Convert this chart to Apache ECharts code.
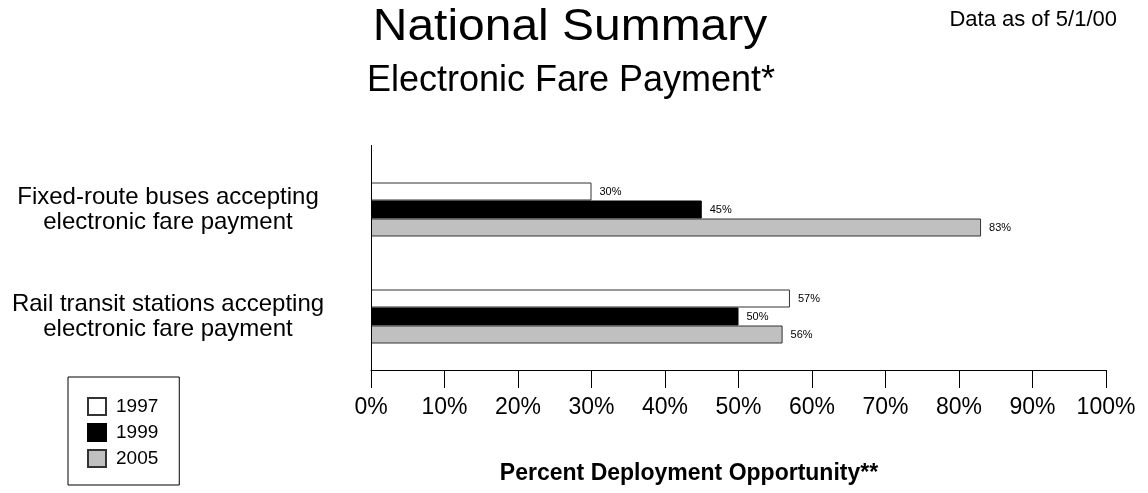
<!DOCTYPE html>
<html>
<head>
<meta charset="utf-8">
<script src="https://cdn.jsdelivr.net/npm/echarts@6/dist/echarts.min.js"></script>
<style>
html,body{margin:0;padding:0;background:#fff;}
#chart{width:1148px;height:493px;}
</style>
</head>
<body>
<div id="chart"></div>
<script>
const categories = [
  'Fixed-route buses accepting\nelectronic fare payment',
  'Rail transit stations accepting\nelectronic fare payment'
];
const years = ['1997', '1999', '2005'];
const values1997 = [30, 57];
const values1999 = [45, 50];
const values2005 = [83, 56];
const xTicks = [0, 10, 20, 30, 40, 50, 60, 70, 80, 90, 100];

const FONT = '"Liberation Sans", Arial, Helvetica, sans-serif';
const chart = echarts.init(document.getElementById('chart'), null, {renderer: 'canvas'});

const barLabel = {
  show: true, position: 'right', distance: 8,
  formatter: p => p.value + '%',
  fontFamily: FONT, fontSize: 11, color: '#000'
};

const styles = [
  {color: '#ffffff', borderColor: '#333', borderWidth: 1},
  {color: '#000000', borderColor: '#000', borderWidth: 1},
  {color: '#c0c0c0', borderColor: '#333', borderWidth: 1}
];
const seriesData = [values1997, values1999, values2005];

chart.setOption({
  animation: false,
  backgroundColor: '#fff',
  grid: {left: 371, right: 42, top: 156, bottom: 123, containLabel: false},
  legend: {
    orient: 'vertical',
    left: 68, top: 377,
    padding: [20, 21, 17, 19],
    borderColor: '#000', borderWidth: 1,
    itemWidth: 18, itemHeight: 17, itemGap: 7,
    icon: 'rect',
    data: years,
    textStyle: {fontFamily: FONT, fontSize: 19, color: '#000', lineHeight: 17, padding: [0, 0, 0, 5]}
  },
  xAxis: {
    type: 'value', min: 0, max: 100, interval: 10,
    axisLine: {show: true, lineStyle: {color: '#000', width: 1}},
    axisTick: {show: true, length: 18, lineStyle: {color: '#000'}},
    splitLine: {show: false},
    axisLabel: {
      formatter: v => v + '%', fontFamily: FONT, fontSize: 23, color: '#000',
      margin: 26, showMinLabel: true, showMaxLabel: true
    }
  },
  yAxis: {
    type: 'category', data: categories, inverse: true,
    axisLine: {show: false},
    axisTick: {show: false},
    axisLabel: {
      align: 'center', margin: 203, fontFamily: FONT, fontSize: 24,
      lineHeight: 25, color: '#000'
    }
  },
  series: years.map((y, i) => ({
    name: y, type: 'bar', data: seriesData[i],
    barWidth: 18, barGap: '0%',
    itemStyle: styles[i],
    label: barLabel
  })),
  graphic: [
    {type: 'line', shape: {x1: 371.5, y1: 145, x2: 371.5, y2: 370}, style: {stroke: '#000', lineWidth: 1}, z: 10},
    {type: 'text', x: 570, y: 28, scaleX: 1.09, style: {text: 'National Summary', font: '44px ' + FONT, fill: '#000', textAlign: 'center', textVerticalAlign: 'middle'}},
    {type: 'text', x: 571, y: 81, style: {text: 'Electronic Fare Payment*', font: '36px ' + FONT, fill: '#000', textAlign: 'center', textVerticalAlign: 'middle'}},
    {type: 'text', x: 1117, y: 20, style: {text: 'Data as of 5/1/00', font: '22px ' + FONT, fill: '#000', textAlign: 'right', textVerticalAlign: 'middle'}},
    {type: 'text', x: 689, y: 474, style: {text: 'Percent Deployment Opportunity**', font: 'bold 23px ' + FONT, fill: '#000', textAlign: 'center', textVerticalAlign: 'middle'}}
  ]
});
</script>
</body>
</html>
